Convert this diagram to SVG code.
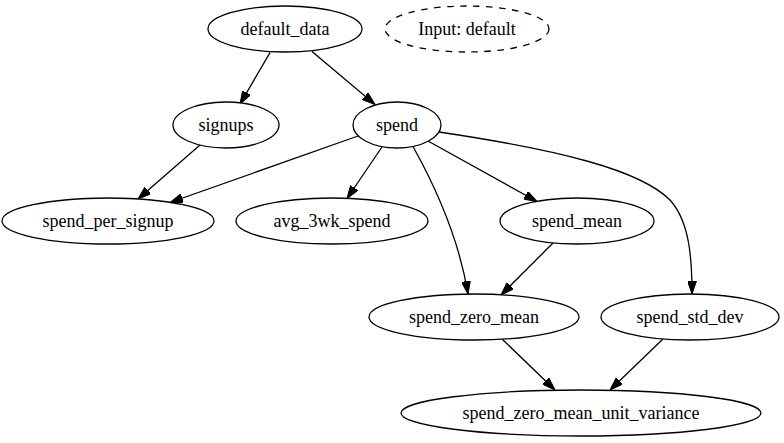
<svg xmlns="http://www.w3.org/2000/svg" width="784" height="443" viewBox="0 0 784 443">
<style>
.n ellipse{fill:#fff;stroke:#000;stroke-width:1.3}
.n text{font-family:"Liberation Serif","Times New Roman",serif;font-size:18px;text-anchor:middle;fill:#000}
.dash ellipse{stroke-dasharray:6.5,6.5}
.e path{fill:none;stroke:#000;stroke-width:1.3;marker-end:url(#ah)}
</style>
<defs>
<marker id="ah" markerUnits="userSpaceOnUse" viewBox="0 0 13 9" markerWidth="13" markerHeight="9" refX="13" refY="4.5" orient="auto">
<path d="M0,0 L13,4.5 L0,9 Z" fill="#000" stroke="#000" stroke-width="1"/>
</marker>
</defs>
<rect width="784" height="443" fill="#fff"/>
<g id="edges" class="e">
<path d="M270,52.6 L240,104"/>
<path d="M312,51.5 L375,104.5"/>
<path d="M200,145 L138,199"/>
<path d="M358,136 L170,202.5"/>
<path d="M382,147 L347,198.5"/>
<path d="M413,146.5 C440,195 460,245 468,294"/>
<path d="M428,141 L537,201.5"/>
<path d="M439,132 C560,150 640,170 670,200 C690,222 692,260 692,294"/>
<path d="M553,243 L501,295"/>
<path d="M502,339 L555,390"/>
<path d="M663,339 L610,390"/>
</g>
<g id="default_data" class="n"><ellipse cx="285" cy="29" rx="77" ry="23"/><text x="285" y="35">default_data</text></g>
<g id="input_default" class="n dash"><ellipse cx="467" cy="29" rx="82" ry="23"/><text x="467" y="35">Input: default</text></g>
<g id="signups" class="n"><ellipse cx="226" cy="125" rx="53" ry="23"/><text x="226" y="131">signups</text></g>
<g id="spend" class="n"><ellipse cx="397" cy="125" rx="44" ry="23"/><text x="397" y="131">spend</text></g>
<g id="spend_per_signup" class="n"><ellipse cx="108" cy="221" rx="106" ry="23"/><text x="108" y="227">spend_per_signup</text></g>
<g id="avg_3wk_spend" class="n"><ellipse cx="332" cy="221" rx="96" ry="23"/><text x="332" y="227">avg_3wk_spend</text></g>
<g id="spend_mean" class="n"><ellipse cx="577" cy="221" rx="77" ry="23"/><text x="577" y="227">spend_mean</text></g>
<g id="spend_zero_mean" class="n"><ellipse cx="474" cy="317" rx="105" ry="23"/><text x="474" y="323">spend_zero_mean</text></g>
<g id="spend_std_dev" class="n"><ellipse cx="690" cy="317" rx="89" ry="23"/><text x="690" y="323">spend_std_dev</text></g>
<g id="spend_zero_mean_unit_variance" class="n"><ellipse cx="581" cy="413" rx="180" ry="23"/><text x="581" y="419">spend_zero_mean_unit_variance</text></g>
</svg>
